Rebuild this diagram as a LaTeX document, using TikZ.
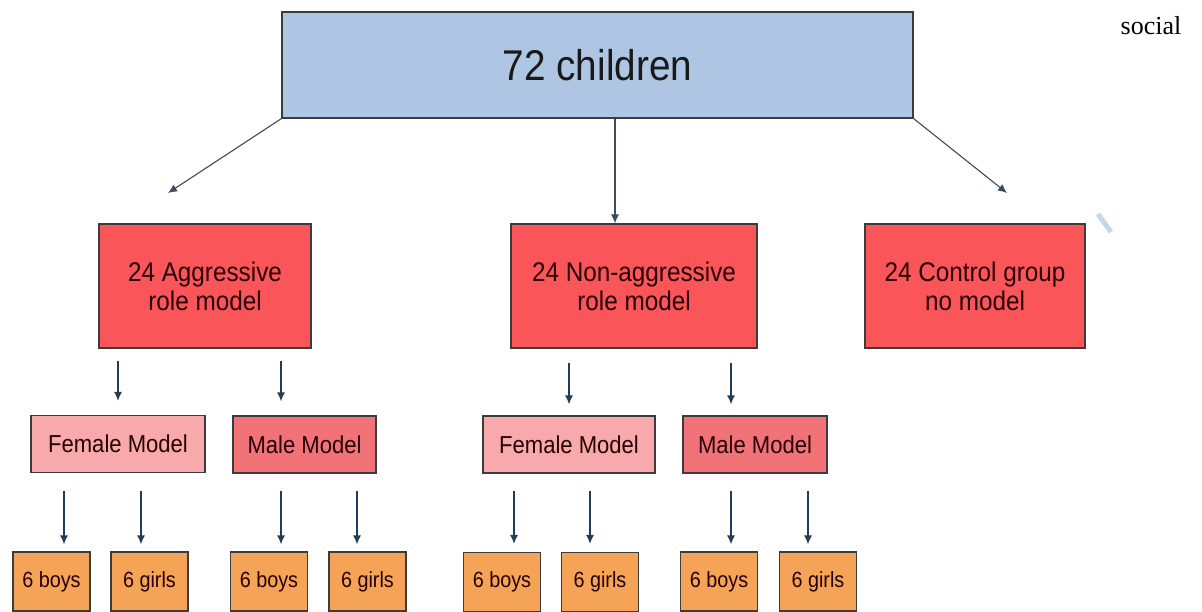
\documentclass[tikz,border=0pt]{standalone}
\usepackage{fontspec}
\setmainfont{Liberation Sans}
\newfontfamily\narrowsans[FakeStretch=0.9]{Liberation Sans}
\newfontfamily\serifsoc{Liberation Serif}
\usetikzlibrary{arrows.meta,calc}
\definecolor{topblue}{HTML}{AEC6E3}
\definecolor{rolered}{HTML}{FA5558}
\definecolor{fempink}{HTML}{F7A9AB}
\definecolor{malered}{HTML}{F17377}
\definecolor{leaforange}{HTML}{F5A457}
\definecolor{boxline}{HTML}{3C3C3C}
\definecolor{arrnavy}{HTML}{213D5C}
\definecolor{arrgray}{HTML}{3D4B5A}
\definecolor{slash}{HTML}{C3D8EF}
\tikzset{
  box/.style={draw=boxline, line width=1.2pt, inner sep=0pt, align=center, text=black!90},
  topbox/.style={box, fill=topblue, minimum width=631pt, minimum height=106pt, font=\narrowsans\fontsize{43}{48}\selectfont},
  rolebox/.style={box, fill=rolered, minimum height=124pt, font=\narrowsans\fontsize{27}{29}\selectfont, text=black!85!red},
  fembox/.style={box, fill=fempink, minimum height=57pt, font=\narrowsans\fontsize{24.5}{28}\selectfont, text=black!85!red},
  malebox/.style={box, fill=malered, minimum height=57pt, font=\narrowsans\fontsize{24.5}{28}\selectfont, text=black!85!red},
  leafbox/.style={box, fill=leaforange, minimum width=77pt, minimum height=59pt, font=\narrowsans\fontsize{22}{26}\selectfont, text=black!85!red},
  arr/.style={draw=arrnavy, line width=1.3pt, -{Latex[length=9pt,width=8pt]}},
  toparr/.style={draw=arrgray, line width=1.1pt, -{Latex[length=9pt,width=8pt]}},
}
\begin{document}
\begin{tikzpicture}[x=1pt,y=-1pt]
\useasboundingbox[fill=white] (0,0) rectangle (1202,612);
% top
\node[topbox] (top) at (597.5,65) {72 children};
\node[font=\serifsoc\fontsize{26}{30}\selectfont, anchor=base] (soc) at (1151,35) {social};
% roles
\node[rolebox, minimum width=212pt] (agg) at (205,286) {24 Aggressive\\ role model};
\node[rolebox, minimum width=246pt] (non) at (634,286) {24 Non-aggressive\\ role model};
\node[rolebox, minimum width=220pt] (ctl) at (975,286) {24 Control group\\ no model};
% models
\node[fembox, minimum width=174pt] (fa) at (118,444) {Female Model};
\node[malebox, minimum width=143pt] (ma) at (304.5,444.5) {Male Model};
\node[fembox, minimum width=172pt] (fn) at (569,444.5) {Female Model};
\node[malebox, minimum width=144pt] (mn) at (755,444.5) {Male Model};
% leaves
\node[leafbox] (b1) at (51.5,581.5) {6 boys};
\node[leafbox] (g1) at (149.5,581.5) {6 girls};
\node[leafbox] (b2) at (269,581.5) {6 boys};
\node[leafbox] (g2) at (367.5,581.5) {6 girls};
\node[leafbox] (b3) at (502,582) {6 boys};
\node[leafbox] (g3) at (600,582) {6 girls};
\node[leafbox] (b4) at (719,581.5) {6 boys};
\node[leafbox] (g4) at (818,581.5) {6 girls};
% stray mark
\draw[slash, line width=5pt] (1098,214) -- (1111,232);
% top arrows
\coordinate (aL) at (168,193);
\coordinate (aR) at (1007,193);
\coordinate (xc) at (615,0);
\draw[toparr] (top.south west) -- (aL);
\draw[toparr] (top.south east) -- (aR);
\draw[toparr] (xc |- top.south) -- (xc |- non.north);
% role -> model arrows
\coordinate (x1) at (118,0);
\coordinate (x2) at (281,0);
\coordinate (x3) at (569,0);
\coordinate (x4) at (731,0);
\draw[arr, shorten <=12pt, shorten >=14pt] (x1 |- agg.south) -- (x1 |- fa.north);
\draw[arr, shorten <=12pt, shorten >=14pt] (x2 |- agg.south) -- (x2 |- ma.north);
\draw[arr, shorten <=14pt, shorten >=11pt] (x3 |- non.south) -- (x3 |- fn.north);
\draw[arr, shorten <=14pt, shorten >=11pt] (x4 |- non.south) -- (x4 |- mn.north);
% model -> leaf arrows
\coordinate (y1) at (64,0);
\coordinate (y2) at (141,0);
\coordinate (y3) at (281,0);
\coordinate (y4) at (357,0);
\coordinate (y5) at (514,0);
\coordinate (y6) at (590,0);
\coordinate (y7) at (731,0);
\coordinate (y8) at (808,0);
\draw[arr, shorten <=18pt, shorten >=7pt] (y1 |- fa.south) -- (y1 |- b1.north);
\draw[arr, shorten <=18pt, shorten >=7pt] (y2 |- fa.south) -- (y2 |- g1.north);
\draw[arr, shorten <=17pt, shorten >=7pt] (y3 |- ma.south) -- (y3 |- b2.north);
\draw[arr, shorten <=17pt, shorten >=7pt] (y4 |- ma.south) -- (y4 |- g2.north);
\draw[arr, shorten <=17pt, shorten >=8pt] (y5 |- fn.south) -- (y5 |- b3.north);
\draw[arr, shorten <=17pt, shorten >=8pt] (y6 |- fn.south) -- (y6 |- g3.north);
\draw[arr, shorten <=17pt, shorten >=7pt] (y7 |- mn.south) -- (y7 |- b4.north);
\draw[arr, shorten <=17pt, shorten >=7pt] (y8 |- mn.south) -- (y8 |- g4.north);
\end{tikzpicture}
\end{document}
